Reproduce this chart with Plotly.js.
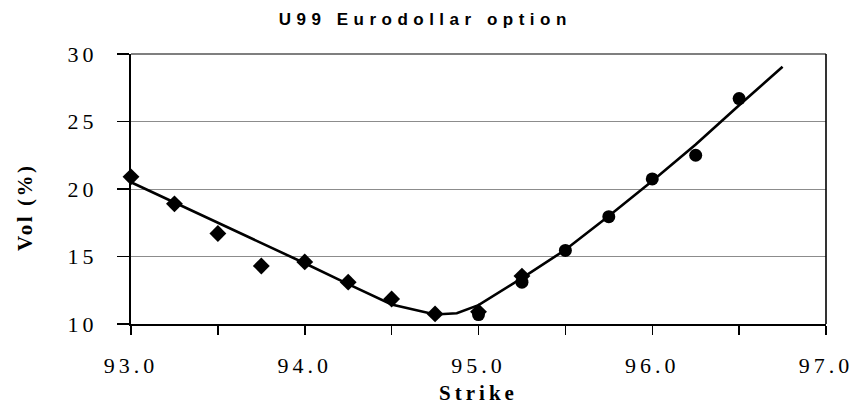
<!DOCTYPE html>
<html>
<head>
<meta charset="utf-8">
<script src="https://cdn.plot.ly/plotly-3.0.1.min.js"></script>
<style>
  html, body { margin: 0; padding: 0; background: #fff; }
  #chart { width: 854px; height: 405px; }
  .gtitle { letter-spacing: 5.5px; }
  .xtitle { letter-spacing: 4px; }
  .annotation-text { letter-spacing: 2.5px; }
  .xtick text, .ytick text { letter-spacing: 4px; }
</style>
</head>
<body>
<div id="chart"></div>
<script>
// Strikes and implied vols
var putStrikes = [93.0, 93.25, 93.5, 93.75, 94.0, 94.25, 94.5, 94.75, 95.0, 95.25];
var putVols    = [20.9, 18.9, 16.7, 14.3, 14.6, 13.1, 11.85, 10.75, 10.9, 13.55];

var callStrikes = [95.0, 95.25, 95.5, 95.75, 96.0, 96.25, 96.5];
var callVols    = [10.7, 13.1, 15.45, 17.95, 20.75, 22.5, 26.7];

var fitStrikes = [93.0, 93.25, 93.5, 93.75, 94.0, 94.25, 94.5, 94.75, 94.875, 95.0, 95.25, 95.5, 95.75, 96.0, 96.25, 96.5, 96.75];
var fitVols    = [20.5, 19.0, 17.55, 16.0, 14.5, 12.95, 11.45, 10.7, 10.8, 11.4, 13.4, 15.5, 18.0, 20.6, 23.3, 26.2, 29.05];

var xTickVals = [93.0, 94.0, 95.0, 96.0, 97.0];
var yTickVals = [10, 15, 20, 25, 30];

var titleText = 'U99 Eurodollar option';
var xTitleText = 'Strike';
var yTitleText = 'Vol (%)';

var serif = 'Liberation Serif, Times New Roman, serif';

var traces = [
  {
    x: fitStrikes, y: fitVols, type: 'scatter', mode: 'lines',
    line: { color: '#000', width: 2.6, shape: 'linear' },
    hoverinfo: 'skip', showlegend: false, cliponaxis: false
  },
  {
    x: putStrikes, y: putVols, type: 'scatter', mode: 'markers',
    marker: { symbol: 'diamond', size: 13, color: '#000' },
    showlegend: false, cliponaxis: false
  },
  {
    x: callStrikes, y: callVols, type: 'scatter', mode: 'markers',
    marker: { symbol: 'circle', size: 13, color: '#000' },
    showlegend: false, cliponaxis: false
  }
];

var layout = {
  width: 854, height: 405,
  margin: { l: 131, r: 28, t: 54, b: 81 },
  paper_bgcolor: '#fff', plot_bgcolor: '#fff',
  title: {
    text: titleText,
    font: { family: 'Liberation Sans, Arial, sans-serif', size: 17, color: '#000', weight: 'bold' },
    x: 0.498, xref: 'container', xanchor: 'center', y: 0.952, yref: 'container', yanchor: 'middle'
  },
  xaxis: {
    range: [93, 97], tickvals: xTickVals, tickformat: '.1f',
    ticks: 'outside', ticklen: 9, tickwidth: 1.5, tickcolor: '#000',
    minor: { dtick: 0.5, ticks: 'outside', ticklen: 9, tickwidth: 1.5, tickcolor: '#000', showgrid: false },
    showline: true, linecolor: '#000', linewidth: 2, showgrid: false, zeroline: false,
    ticklabelstandoff: 12,
    tickfont: { family: serif, size: 22, color: '#000' },
    title: { text: xTitleText, standoff: 12,
      font: { family: serif, size: 21, color: '#000', weight: 'bold' } }
  },
  yaxis: {
    range: [10, 30], tickvals: yTickVals,
    ticks: 'outside', ticklen: 12, tickwidth: 1.5, tickcolor: '#000',
    showline: true, linecolor: '#000', linewidth: 2,
    showgrid: true, gridcolor: '#8c8c8c', gridwidth: 1, zeroline: false,
    ticklabelstandoff: 15,
    tickfont: { family: serif, size: 22, color: '#000' }
  },
  annotations: [
    { text: yTitleText, xref: 'paper', yref: 'paper', x: -0.1525, y: 0.43,
      xanchor: 'center', yanchor: 'middle', textangle: -90, showarrow: false,
      font: { family: serif, size: 21, color: '#000', weight: 'bold' } }
  ],
  shapes: [
    { type: 'line', xref: 'paper', yref: 'paper', x0: 0, x1: 1, y0: 1, y1: 1, line: { color: '#000', width: 1.2 } },
    { type: 'line', xref: 'paper', yref: 'paper', x0: 1, x1: 1, y0: 0, y1: 1, line: { color: '#000', width: 1.6 } }
  ]
};

Plotly.newPlot('chart', traces, layout, { displayModeBar: false, staticPlot: true });
</script>
</body>
</html>
